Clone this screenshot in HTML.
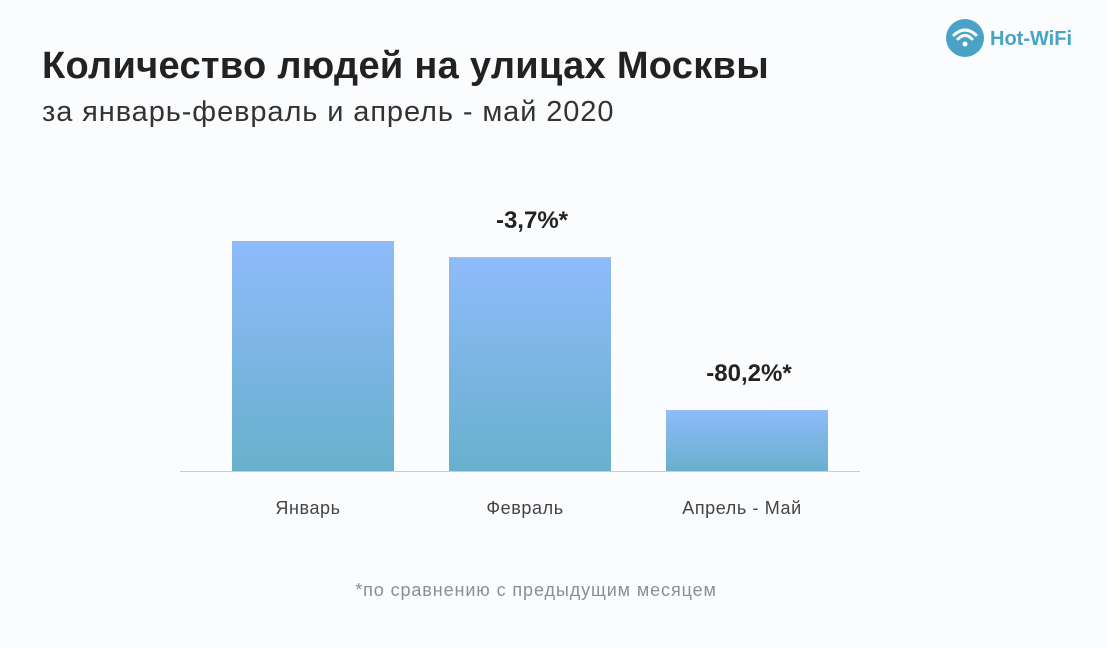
<!DOCTYPE html>
<html><head><meta charset="utf-8"><style>
body{margin:0;width:1107px;height:648px;background:#fbfcfe;font-family:"Liberation Sans","DejaVu Sans",sans-serif;overflow:hidden;position:relative}
.t{position:absolute;white-space:nowrap}
</style></head><body>
<div class="t" style="left:42px;top:45px;font-size:38px;font-weight:bold;color:#222;letter-spacing:0.3px">Количество людей на улицах Москвы</div>
<div class="t" style="left:42px;top:96px;font-size:29px;color:#333;letter-spacing:0.9px">за январь-февраль и апрель - май 2020</div>
<div style="position:absolute;left:946px;top:18px">
<svg width="150" height="40"><circle cx="19" cy="20" r="19" fill="#4aa3c6"/>
<path d="M8 17 Q19 7 30 17" stroke="#fff" stroke-width="3" fill="none" stroke-linecap="round"/>
<path d="M12 21 Q19 14 26 21" stroke="#fff" stroke-width="3" fill="none" stroke-linecap="round"/>
<circle cx="19" cy="26" r="2.5" fill="#fff"/>
<text x="44" y="27" font-family="Liberation Sans" font-weight="bold" font-size="20" fill="#4aa3c6">Hot-WiFi</text></svg></div>
<svg id="ch" width="1107" height="648" style="position:absolute;left:0;top:0">
<defs><linearGradient id="g" x1="0" y1="0" x2="0" y2="1"><stop offset="0" stop-color="#8fbbfb"/><stop offset="1" stop-color="#68b0cc"/></linearGradient></defs>
</svg>
<div class="t" style="left:0;width:1072px;text-align:center;top:580px;font-size:18px;color:#8a8f96;letter-spacing:0.9px">*по сравнению с предыдущим месяцем</div>
<script>
const categories=["Январь","Февраль","Апрель - Май"];
const values=[100,93,26.5];
const labels=["","-3,7%*","-80,2%*"];
const svg=document.getElementById('ch');const NS="http://www.w3.org/2000/svg";
const base=471,scale=2.3,x0=232,step=217,bw=162;
const y=v=>base-v*scale;
const ax=document.createElementNS(NS,'line');


ax.setAttribute('x1',180);ax.setAttribute('x2',860);ax.setAttribute('y1',base+0.5);ax.setAttribute('y2',base+0.5);ax.setAttribute('stroke','#ccc');svg.appendChild(ax);
categories.forEach((c,i)=>{
const x=x0+i*step;
const r=document.createElementNS(NS,'rect');


r.setAttribute('x',x);r.setAttribute('y',y(values[i]));r.setAttribute('width',bw);r.setAttribute('height',base-y(values[i]));r.setAttribute('fill','url(#g)');svg.appendChild(r);
const t=document.createElementNS(NS,'text');


t.setAttribute('x',x+bw/2-5);t.setAttribute('y',514);t.setAttribute('text-anchor','middle');t.setAttribute('font-size','18');t.setAttribute('letter-spacing','0.6');t.setAttribute('fill','#444');t.textContent=c;svg.appendChild(t);
if(labels[i]){const l=document.createElementNS(NS,'text');


l.setAttribute('x',x+bw/2+2);l.setAttribute('y',y(values[i])-29);l.setAttribute('text-anchor','middle');l.setAttribute('font-size','24');l.setAttribute('font-weight','bold');l.setAttribute('fill','#222');l.textContent=labels[i];svg.appendChild(l);}
});
</script>
</body></html>
